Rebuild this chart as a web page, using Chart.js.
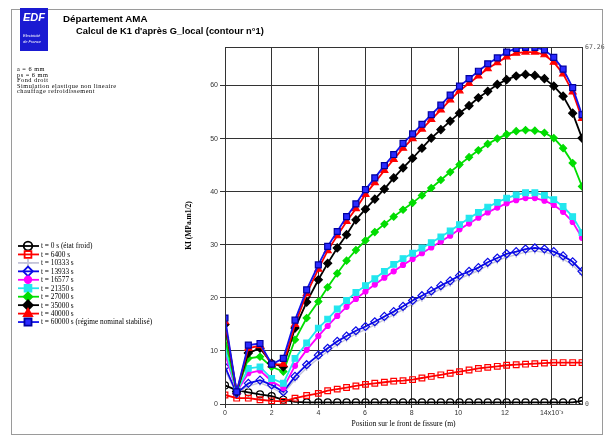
<!DOCTYPE html>
<html>
<head>
<meta charset="utf-8">
<script src="https://cdn.jsdelivr.net/npm/chart.js@4/dist/chart.umd.min.js"></script>
<style>
  body { margin: 0; background: #fff; }
  #wrap { position: relative; width: 612px; height: 441px; overflow: hidden; }
  #myChart { position: absolute; left: 0; top: 0; }
  .frame { position: absolute; left: 11px; top: 9px; width: 590px; height: 424px; border: 1px solid #9a9a9a; }
  .logo { position: absolute; left: 20px; top: 8px; width: 28px; height: 43px; background: #1a1ad2; color: #fff; font-family: "Liberation Sans", Arial, sans-serif; }
  .logo .big { position: absolute; left: 3px; top: 3px; font-size: 11px; font-weight: bold; font-style: italic; }
  .logo .small { position: absolute; left: 3px; top: 25px; font-size: 4px; line-height: 6px; font-style: italic; }
  .txt { position: absolute; white-space: nowrap; color: #000; }
  .head { font-family: "Liberation Sans", Arial, sans-serif; font-weight: bold; }
  .info { font-family: "Liberation Serif", "Times New Roman", serif; font-size: 6.3px; letter-spacing: 0.5px; line-height: 5.5px; left: 17px; top: 66px; }
</style>
</head>
<body>
<div id="wrap">
  <canvas id="myChart" width="612" height="441"></canvas>
  <div class="frame"></div>
  <div class="logo"><div class="big">EDF</div><div class="small">Electricité<br>de France</div></div>
  <div class="txt head" style="left:63px; top:13px; font-size:9.8px;">Département AMA</div>
  <div class="txt head" style="left:76px; top:26px; font-size:9.3px;">Calcul de K1 d'après G_local (contour n°1)</div>
  <div class="txt info">a = 6 mm<br>ps = 6 mm<br>Fond droit<br>Simulation elastique non lineaire<br>chauffage refroidissement</div>
</div>
<script>
// position along the crack front (x 10^-3 m)
const positions = [0, 0.5, 1, 1.5, 2, 2.5, 3, 3.5, 4, 4.40, 4.81, 5.21, 5.61, 6.02, 6.42, 6.83, 7.23, 7.63, 8.04,
  8.44, 8.84, 9.25, 9.65, 10.05, 10.46, 10.86, 11.26, 11.67, 12.07, 12.48, 12.88, 13.28, 13.69, 14.09, 14.49, 14.90, 15.30];

const legendLabels = ['t = 0 s (état froid)', 't = 6400 s', 't = 10333 s', 't = 13933 s', 't = 16577 s',
  't = 21350 s', 't = 27000 s', 't = 35000 s', 't = 40000 s', 't = 60000 s (régime nominal stabilisé)'];

const k1_t0 = [3.5, 2.6, 2.2, 1.8, 1.5, 0.8, 0.4, 0.3, 0.3, 0.3, 0.3, 0.3, 0.3, 0.3, 0.3, 0.3, 0.3, 0.3, 0.3,
  0.3, 0.3, 0.3, 0.3, 0.3, 0.3, 0.3, 0.3, 0.3, 0.3, 0.3, 0.3, 0.3, 0.3, 0.3, 0.3, 0.3, 0.6];
const k1_t6400 = [1.7, 1.1, 1.1, 0.8, 0.6, 0.5, 1.1, 1.6, 2.0, 2.5, 2.8, 3.1, 3.4, 3.7, 3.9, 4.1, 4.3, 4.4, 4.6,
  4.9, 5.2, 5.5, 5.8, 6.1, 6.4, 6.7, 6.9, 7.1, 7.3, 7.4, 7.5, 7.6, 7.7, 7.8, 7.8, 7.8, 7.8];
const k1_t10333 = [6.3, 2.0, 3.4, 4.0, 3.1, 1.9, 4.6, 6.8, 8.6, 9.9, 11.2, 12.2, 13.2, 14.0, 14.9, 15.9, 16.8, 17.8, 18.9,
  19.8, 20.7, 21.7, 22.6, 23.6, 24.4, 25.1, 26.1, 26.9, 27.7, 28.1, 28.6, 28.8, 28.6, 28.1, 27.3, 26.2, 24.4];
const k1_t13933 = [7.0, 2.0, 3.9, 4.5, 3.6, 2.3, 5.2, 7.4, 9.2, 10.5, 11.8, 12.8, 13.8, 14.6, 15.5, 16.5, 17.4, 18.4, 19.5,
  20.4, 21.3, 22.3, 23.2, 24.2, 25.0, 25.7, 26.7, 27.5, 28.3, 28.7, 29.2, 29.4, 29.2, 28.7, 27.9, 26.8, 25.0];
const k1_t16577 = [9.5, 2.3, 5.8, 6.3, 4.3, 3.0, 7.2, 10.2, 12.8, 14.7, 16.6, 18.3, 19.8, 21.2, 22.5, 23.8, 25.0, 26.2, 27.3,
  28.4, 29.5, 30.6, 31.7, 32.9, 34.0, 35.1, 36.1, 37.0, 37.8, 38.4, 38.8, 38.8, 38.3, 37.5, 36.2, 34.3, 31.3];
const k1_t21350 = [10.5, 2.3, 6.7, 7.0, 4.8, 3.9, 8.6, 11.5, 14.3, 16.0, 17.9, 19.5, 21.0, 22.3, 23.6, 25.0, 26.3, 27.4, 28.4,
  29.4, 30.4, 31.5, 32.6, 33.8, 35.0, 36.1, 37.1, 38.0, 38.8, 39.4, 39.8, 39.8, 39.3, 38.5, 37.2, 35.3, 32.3];
const k1_t27000 = [12.5, 2.3, 8.6, 8.9, 7.0, 6.1, 12.1, 16.2, 19.3, 22.0, 24.6, 27.0, 29.0, 30.8, 32.4, 33.9, 35.3, 36.6, 37.9,
  39.3, 40.7, 42.2, 43.7, 45.1, 46.5, 47.8, 49.0, 50.0, 50.8, 51.4, 51.6, 51.5, 51.1, 50.1, 48.2, 45.4, 41.0];
const k1_t35000 = [15.0, 2.3, 9.6, 10.5, 7.7, 7.0, 14.3, 19.2, 23.4, 26.5, 29.4, 31.9, 34.7, 36.7, 38.6, 40.5, 42.6, 44.5, 46.3,
  48.2, 50.1, 51.7, 53.3, 54.8, 56.2, 57.7, 58.9, 60.2, 61.1, 61.8, 62.1, 61.9, 61.3, 59.9, 58.0, 54.8, 50.1];
const k1_t40000 = [15.5, 2.3, 10.5, 11.0, 7.4, 7.5, 15.0, 20.8, 25.4, 28.9, 31.7, 34.4, 36.8, 39.5, 41.7, 44.0, 46.1, 48.2, 50.0,
  51.8, 53.6, 55.4, 57.3, 59.0, 60.4, 61.8, 63.2, 64.3, 65.4, 66.1, 66.3, 66.3, 65.8, 64.4, 62.2, 58.8, 53.8];
const k1_t60000 = [16.2, 2.3, 11.1, 11.4, 7.5, 8.6, 15.8, 21.5, 26.2, 29.7, 32.5, 35.3, 37.7, 40.4, 42.6, 44.9, 47.0, 49.1, 50.9,
  52.7, 54.5, 56.3, 58.2, 59.9, 61.3, 62.7, 64.1, 65.2, 66.3, 67.0, 67.2, 67.2, 66.7, 65.3, 63.1, 59.6, 54.5];

const xTickValues = [0, 2, 4, 6, 8, 10, 12, 14];
const xTickLabels = ['0', '2', '4', '6', '8', '10', '12', '14x10\u207B\u00B3'];
const yTickValues = [0, 10, 20, 30, 40, 50, 60];
const yMax = 67.26;

const allSeries = [k1_t0, k1_t6400, k1_t10333, k1_t13933, k1_t16577, k1_t21350, k1_t27000, k1_t35000, k1_t40000, k1_t60000];
const styles = [
  { color: '#000000', point: 'circle', r: 3.5, fill: 'rgba(0,0,0,0)' },
  { color: '#ff0000', point: 'rect', r: 4, fill: 'rgba(0,0,0,0)' },
  { color: '#c4c4d8', point: 'cross', r: 3, fill: '#c4c4d8' },
  { color: '#0a0ae6', point: 'rectRot', r: 4, fill: 'rgba(0,0,0,0)' },
  { color: '#ff00ff', point: 'circle', r: 2.5, fill: '#ff00ff' },
  { color: '#22e6ee', point: 'rect', r: 4, fill: '#22e6ee' },
  { color: '#00dd00', point: 'rectRot', r: 3.5, fill: '#00dd00' },
  { color: '#000000', point: 'rectRot', r: 4, fill: '#000000' },
  { color: '#ff0000', point: 'triangle', r: 4, fill: '#ff0000' },
  { color: '#1212ee', point: 'rect', r: 4.2, fill: '#2a2aff' }
];

const datasets = allSeries.map((vals, i) => ({
  label: legendLabels[i],
  data: vals.map((v, j) => ({ x: positions[j], y: v })),
  borderColor: styles[i].color,
  borderWidth: i === 2 ? 1.4 : 1.8,
  pointStyle: styles[i].point,
  pointRadius: styles[i].r,
  pointBackgroundColor: styles[i].fill,
  pointBorderColor: i === 9 ? '#0000a0' : styles[i].color,
  pointBorderWidth: 1.2,
  tension: 0,
  order: 9 - i
}));

// frame round the plot, side labels and the legend
const decor = {
  id: 'decor',
  afterDraw(chart) {
    const ctx = chart.ctx;
    const a = chart.chartArea;
    ctx.save();
    ctx.strokeStyle = '#333';
    ctx.lineWidth = 1;
    ctx.strokeRect(a.left + 0.5, a.top + 0.5, a.right - a.left, a.bottom - a.top);
    ctx.fillStyle = '#555';
    ctx.font = '6.5px "DejaVu Sans Mono", monospace';
    ctx.textBaseline = 'middle';
    ctx.fillText('67.26', a.right + 3, a.top);
    ctx.fillText('0', a.right + 3, a.bottom);

    chart.data.datasets.forEach((ds, i) => {
      const y = 246 + i * 8.45;
      ctx.strokeStyle = ds.borderColor;
      ctx.lineWidth = 1.8;
      ctx.beginPath();
      ctx.moveTo(18, y);
      ctx.lineTo(39, y);
      ctx.stroke();
      ctx.fillStyle = ds.pointBackgroundColor;
      ctx.strokeStyle = ds.pointBorderColor;
      Chart.helpers.drawPoint(ctx, { pointStyle: ds.pointStyle, radius: ds.pointRadius + 0.8, rotation: 0, borderWidth: 1.3 }, 28, y);
      ctx.fillStyle = '#000';
      ctx.font = '7.3px "Liberation Serif", serif';
      ctx.textBaseline = 'middle';
      ctx.fillText(ds.label, 41, y + 0.5);
    });
    ctx.restore();
  }
};

new Chart(document.getElementById('myChart').getContext('2d'), {
  type: 'line',
  data: { datasets: datasets },
  plugins: [decor],
  options: {
    responsive: false,
    animation: false,
    devicePixelRatio: 1,
    layout: { padding: { left: 180, right: 30, top: 47, bottom: 10 } },
    plugins: { legend: { display: false }, tooltip: { enabled: false } },
    scales: {
      x: {
        type: 'linear',
        min: 0,
        max: 15.3,
        afterBuildTicks: s => { s.ticks = xTickValues.map(v => ({ value: v })); },
        afterFit: s => { s.height = 27; },
        ticks: {
          callback: (v, i) => xTickLabels[i],
          color: '#333',
          font: { family: 'Liberation Sans', size: 7 },
          padding: 1,
          maxRotation: 0
        },
        grid: { color: '#333', lineWidth: 1, tickLength: 4 },
        border: { color: '#333' },
        title: {
          display: true,
          text: 'Position sur le front de fissure (m)',
          color: '#000',
          font: { family: 'Liberation Serif', size: 7.6 },
          padding: { top: 0, bottom: 2 }
        }
      },
      y: {
        min: 0,
        max: yMax,
        afterBuildTicks: s => { s.ticks = yTickValues.map(v => ({ value: v })); },
        afterFit: s => { s.width = 45; },
        ticks: {
          color: '#333',
          font: { family: 'Liberation Sans', size: 7 },
          padding: 2
        },
        grid: { color: '#333', lineWidth: 1, tickLength: 5 },
        border: { color: '#333' },
        title: {
          display: true,
          text: 'KI (MPa.m1/2)',
          color: '#000',
          font: { family: 'Liberation Serif', size: 7.5, weight: 'bold' },
          padding: { top: 5, bottom: 0 }
        }
      }
    }
  }
});
</script>
</body>
</html>
